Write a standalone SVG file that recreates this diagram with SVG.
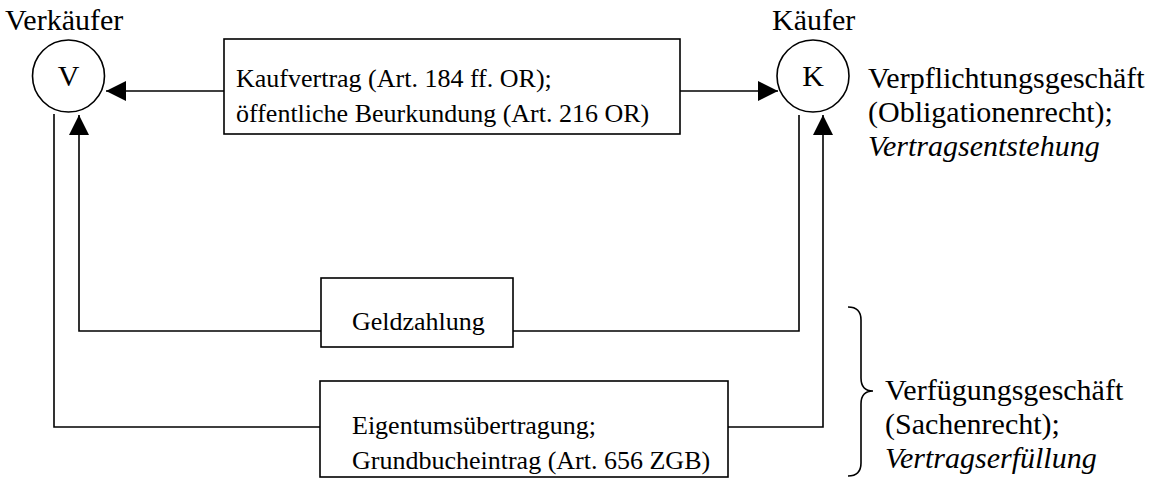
<svg xmlns="http://www.w3.org/2000/svg" width="1162" height="478" viewBox="0 0 1162 478">
<style>
text{font-family:"Liberation Serif","Times New Roman","DejaVu Serif",serif;fill:#000}
.lbl{font-size:30px}
.box{font-size:26px}
.it{font-style:italic}
.shape{fill:#fff;stroke:#000;stroke-width:1.6}
.con{fill:none;stroke:#000;stroke-width:1.6}
</style>
<defs>
<marker id="ah" markerUnits="userSpaceOnUse" markerWidth="20" markerHeight="20" refX="20" refY="10" orient="auto">
<path d="M0,0 L20,10 L0,20 z" fill="#000"/>
</marker>
</defs>
<rect width="1162" height="478" fill="#fff"/>
<g id="connectors">
<line class="con" x1="224" y1="91" x2="106" y2="91" marker-end="url(#ah)"/>
<line class="con" x1="680" y1="91" x2="778" y2="91" marker-end="url(#ah)"/>
<polyline class="con" points="321,331 79,331 79,115" marker-end="url(#ah)"/>
<polyline class="con" points="799,115 799,331 513,331"/>
<polyline class="con" points="54,114 54,427 320,427"/>
<polyline class="con" points="728,427 823,427 823,115" marker-end="url(#ah)"/>
</g>
<g id="verkaeufer">
<text class="lbl" x="5" y="30">Verkäufer</text>
<circle class="shape" cx="68.5" cy="76" r="36"/>
<text class="lbl" x="68.5" y="86" text-anchor="middle">V</text>
</g>
<g id="kaeufer">
<text class="lbl" x="772" y="30">Käufer</text>
<circle class="shape" cx="813" cy="76" r="36"/>
<text class="lbl" x="813" y="86" text-anchor="middle">K</text>
</g>
<g id="kaufvertrag">
<rect class="shape" x="224" y="39" width="456" height="95"/>
<text class="box" x="236" y="87">Kaufvertrag (Art. 184 ff. OR);</text>
<text class="box" x="236" y="122">öffentliche Beurkundung (Art. 216 OR)</text>
</g>
<g id="geldzahlung">
<rect class="shape" x="321" y="278" width="192" height="69"/>
<text class="box" x="352" y="330">Geldzahlung</text>
</g>
<g id="eigentum">
<rect class="shape" x="320" y="381" width="408" height="96"/>
<text class="box" x="352" y="434">Eigentumsübertragung;</text>
<text class="box" x="352" y="469">Grundbucheintrag (Art. 656 ZGB)</text>
</g>
<g id="verpflichtung">
<text class="lbl" x="868" y="88">Verpflichtungsgeschäft</text>
<text class="lbl" x="868" y="122">(Obligationenrecht);</text>
<text class="lbl it" x="868" y="156">Vertragsentstehung</text>
</g>
<g id="verfuegung">
<path class="con" d="M848,307 Q861,307 861,320 L861,378 Q861,391 873,391 Q861,391 861,404 L861,463 Q861,476 848,476"/>
<text class="lbl" x="885" y="400">Verfügungsgeschäft</text>
<text class="lbl" x="885" y="434">(Sachenrecht);</text>
<text class="lbl it" x="885" y="468">Vertragserfüllung</text>
</g>
</svg>
